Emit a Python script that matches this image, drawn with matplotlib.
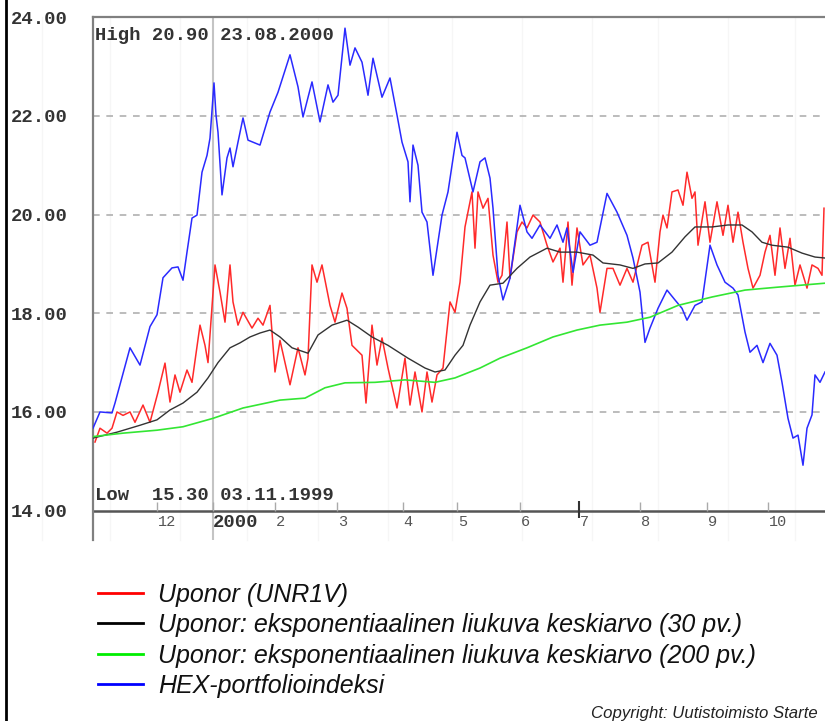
import matplotlib
matplotlib.use("Agg")
import matplotlib.pyplot as plt
from matplotlib.lines import Line2D

# Uponor vs HEX portfolio index, 1.11.1999 - 31.10.2000
# x values are days counted from 1.11.1999

y_ticks = [14, 16, 18, 20, 22, 24]
y_labels = ['14.00', '16.00', '18.00', '20.00', '22.00', '24.00']

month_days = [32, 60, 91, 122, 155, 182, 213.5, 243, 273.5, 307, 337.5]
month_labels = ['12', '2000', '2', '3', '4', '5', '6', '7', '8', '9', '10']
year_day = 60

high_val, high_date = 20.90, '23.08.2000'
low_val, low_date = 15.30, '03.11.1999'

red_day = [1, 3.5, 7, 9.5, 12, 15, 18.5, 21, 25, 28.5, 32.5, 36, 38.5, 41, 43.5,
           47, 49.5, 53.5, 56, 57.5, 61, 63.5, 66, 68.5, 70, 72.5, 75, 79.5, 82.5,
           85, 88.5, 91, 93.5, 98.5, 102.5, 106, 107.5, 109.5, 112, 114.5, 118.5,
           121, 124.5, 127, 129.5, 134.5, 136.5, 139.5, 142, 144.5, 147.5, 152,
           156, 158.5, 161, 164.5, 167, 169.5, 172, 175, 178.5, 181, 183.5, 186,
           189.5, 191, 192.5, 195, 197.5, 200, 202.5, 204.5, 207, 208.5, 212,
           214.5, 217, 220, 223.5, 227, 230, 233.5, 235, 237.5, 239.5, 242, 245,
           248.5, 252, 253.5, 257, 260, 263.5, 267, 270, 274.5, 277.5, 281, 283.5,
           285, 287, 289.5, 292.5, 295, 297, 299.5, 301, 302.5, 306, 308.5, 312,
           315, 317.5, 320, 322.5, 325, 327.5, 330, 333.5, 336, 338.5, 341, 343.5,
           346, 348.5, 351, 353.5, 357, 359.5, 362.5, 364.5, 365.5]
red_val = [15.39, 15.67, 15.57, 15.67, 16.00, 15.93, 16.00, 15.79, 16.14, 15.79,
           16.40, 16.99, 16.20, 16.75, 16.40, 16.85, 16.60, 17.76, 17.35, 17.00,
           18.98, 18.43, 17.82, 18.98, 18.23, 17.76, 18.02, 17.70, 17.90, 17.76,
           18.16, 16.81, 17.45, 16.55, 17.30, 16.75, 17.09, 18.98, 18.63, 18.98,
           18.16, 17.82, 18.41, 18.10, 17.35, 17.15, 16.18, 17.76, 16.95, 17.50,
           16.89, 16.08, 17.09, 16.14, 16.81, 16.00, 16.81, 16.20, 16.75, 16.89,
           18.23, 18.02, 18.63, 19.75, 20.46, 19.32, 20.46, 20.13, 20.33, 19.18,
           18.63, 18.77, 19.85, 18.71, 19.65, 19.85, 19.73, 19.99, 19.85, 19.38,
           19.04, 19.32, 18.63, 19.85, 18.57, 19.73, 18.98, 19.18, 18.51, 18.02,
           18.91, 18.91, 18.57, 18.91, 18.63, 19.38, 19.44, 18.63, 19.65, 19.99,
           19.73, 20.46, 20.50, 20.19, 20.86, 20.33, 20.46, 19.38, 20.26, 19.44,
           20.26, 19.58, 20.19, 19.44, 20.05, 19.44, 18.91, 18.51, 18.77, 19.24,
           19.58, 18.77, 19.73, 18.91, 19.52, 18.57, 18.98, 18.51, 18.98, 18.91,
           18.77, 20.13]

ema30_day = [0, 12, 23.5, 32, 38.5, 45, 52, 57.5, 62.5, 68.5, 73.5, 78.5, 83.5,
             88.5, 93.5, 99.5, 107.5, 112.5, 119.5, 127, 132.5, 139.5, 147.5,
             157.5, 166, 171, 176, 181, 185, 188.5, 193.5, 198.5, 205, 212, 218.5,
             227, 233.5, 242, 250, 255, 263.5, 270, 276, 282.5, 289.5, 296, 301,
             309.5, 317.5, 324.5, 329.5, 334.5, 339.5, 347.5, 354.5, 361, 366]
ema30_val = [15.47, 15.59, 15.73, 15.84, 16.04, 16.18, 16.40, 16.69, 17.00, 17.30,
             17.40, 17.52, 17.60, 17.66, 17.52, 17.30, 17.19, 17.56, 17.76, 17.86,
             17.72, 17.52, 17.35, 17.09, 16.89, 16.81, 16.85, 17.15, 17.35, 17.76,
             18.23, 18.57, 18.61, 18.91, 19.14, 19.32, 19.24, 19.24, 19.18, 19.02,
             18.98, 18.91, 19.00, 19.02, 19.24, 19.55, 19.75, 19.75, 19.79, 19.79,
             19.65, 19.44, 19.38, 19.34, 19.22, 19.14, 19.12]

ema200_day = [0, 15, 32, 45, 60, 75, 93.5, 106, 116, 126, 141, 156, 171, 181,
              193.5, 203.5, 217, 230, 242, 253.5, 267, 278.5, 292.5, 309.5, 326,
              342.5, 366]
ema200_val = [15.50, 15.57, 15.63, 15.70, 15.87, 16.08, 16.24, 16.28, 16.49, 16.59,
              16.60, 16.65, 16.60, 16.69, 16.89, 17.09, 17.30, 17.52, 17.66, 17.76,
              17.82, 17.92, 18.16, 18.33, 18.47, 18.53, 18.61]

hex_day = [0, 3.5, 9.5, 11, 18.5, 23.5, 28.5, 32, 35, 39.5, 42.5, 45, 47, 49.5,
           52, 54.5, 57, 58.5, 60.5, 61.5, 62.5, 64.5, 67, 68.5, 70, 72.5, 75,
           77.5, 83.5, 88.5, 92.5, 98.5, 102.5, 105, 109.5, 113.5, 117.5, 120,
           122.5, 126, 128.5, 131, 134.5, 137.5, 140, 144.5, 148.5, 152, 154.5,
           157.5, 158.5, 160, 162.5, 164.5, 167, 170, 174.5, 177.5, 182, 184.5,
           186, 190, 193.5, 196, 198.5, 200, 202.5, 205, 208.5, 213.5, 217, 219.5,
           223.5, 228.5, 232, 235, 237, 240, 243.5, 248.5, 252, 257, 262, 267, 270,
           273.5, 276, 278.5, 282.5, 287, 291, 294.5, 297, 301, 304.5, 308.5, 312,
           316, 320, 322.5, 326, 328.5, 332, 335, 338.5, 342, 344.5, 347.5, 350,
           352.5, 355, 357, 359.5, 361, 363.5, 366]
hex_val = [15.67, 16.00, 15.98, 16.18, 17.30, 16.95, 17.73, 17.97, 18.72, 18.92,
           18.94, 18.67, 19.24, 19.93, 19.99, 20.86, 21.20, 21.55, 22.67, 22.02,
           21.67, 20.40, 21.15, 21.35, 20.97, 21.47, 21.96, 21.51, 21.41, 22.08,
           22.48, 23.24, 22.59, 21.98, 22.69, 21.88, 22.63, 22.28, 22.42, 23.78,
           23.03, 23.38, 23.09, 22.42, 23.17, 22.38, 22.77, 22.02, 21.47, 21.07,
           20.26, 21.41, 21.00, 20.05, 19.85, 18.77, 19.99, 20.46, 21.67, 21.20,
           21.15, 20.46, 21.07, 21.15, 20.74, 20.13, 18.77, 18.27, 18.71, 20.19,
           19.65, 19.52, 19.79, 19.52, 19.79, 19.44, 19.73, 18.83, 19.65, 19.38,
           19.44, 20.43, 20.05, 19.58, 19.12, 18.43, 17.41, 17.70, 18.10, 18.47,
           18.27, 18.10, 17.86, 18.16, 18.23, 19.38, 18.98, 18.63, 18.51, 18.37,
           17.62, 17.21, 17.35, 17.00, 17.39, 17.15, 16.60, 15.87, 15.47, 15.53,
           14.92, 15.67, 15.94, 16.75, 16.60, 16.81]

legend_labels = ['Uponor (UNR1V)',
                 'Uponor: eksponentiaalinen liukuva keskiarvo (30 pv.)',
                 'Uponor: eksponentiaalinen liukuva keskiarvo (200 pv.)',
                 'HEX-portfolioindeksi']
legend_colors = ['#ff0000', '#000000', '#00ee00', '#0000ff']

W, H = 825, 721
mono = 'Liberation Mono'

fig = plt.figure(figsize=(W / 100, H / 100), dpi=100)
fig.patch.set_facecolor('white')

# axes: top at y=24 (px 17), 2 px per day starting at px 93
ax = fig.add_axes([93 / W, 1 - 540 / H, 740 / W, (540 - 17.3) / H])
ax.patch.set_visible(False)
ax.set_xlim(0, 370)
ax.set_ylim(24 - (540 - 17.3) / 49.33, 24)

for s in ['right', 'bottom']:
    ax.spines[s].set_visible(False)
for s in ['top', 'left']:
    ax.spines[s].set_color('#808080')
    ax.spines[s].set_linewidth(1.6)

# very faint background verticals
for px in [42, 110, 180, 247, 318, 388, 452, 522, 592, 658, 728, 795]:
    fig.add_artist(Line2D([px / W, px / W], [1 - 540 / H, 1 - 17 / H],
                          color='#f6f6f6', lw=1, zorder=-1))

for v in y_ticks[1:-1]:
    ax.axhline(v, color='#b0b0b0', lw=1.2, ls=(0, (4, 4)), zorder=0)
ax.axvline(year_day, color='#c4c4c4', lw=1.5, zorder=0.5)
ax.axhline(14, color='#555555', lw=1.8, zorder=1)

ax.vlines([d for d in month_days if d != 243], 14, 14.18, color='#aaaaaa', lw=1)
ax.vlines(243, 13.86, 14.2, color='#333333', lw=1.5)

ax.plot(red_day, red_val, color='#ff2a2a', lw=1.1, zorder=3)
ax.plot(hex_day, hex_val, color='#2a2aff', lw=1.1, zorder=3)
ax.plot(ema30_day, ema30_val, color='#333333', lw=1.0, zorder=4)
ax.plot(ema200_day, ema200_val, color='#33e633', lw=1.2, zorder=4)

ax.set_xticks([])
ax.set_yticks(y_ticks, y_labels)
ax.tick_params(axis='y', length=0, pad=18)
for t in ax.get_yticklabels():
    t.set_fontfamily(mono)
    t.set_fontweight('bold')
    t.set_fontsize(13.6)
    t.set_color('#333333')

for d, lab in zip(month_days, month_labels):
    if lab == '2000':
        ax.text(d, 13.75, lab, ha='left', va='center', family=mono,
                fontweight='bold', fontsize=13.6, color='#333333')
    else:
        ax.text(d + 0.3, 13.77, lab, ha='left', va='center', family=mono,
                fontsize=11, color='#555555')

fig.text(95 / W, 1 - 36 / H, 'High %.2f %s' % (high_val, high_date), va='center',
         family=mono, fontweight='bold', fontsize=13.6, color='#333333')
fig.text(95 / W, 1 - 495 / H, 'Low  %.2f %s' % (low_val, low_date), va='center',
         family=mono, fontweight='bold', fontsize=13.6, color='#333333')

# left frame line
fig.add_artist(Line2D([6 / W, 6 / W], [0, 1], color='black', lw=2))

# legend
for i, (lab, col) in enumerate(zip(legend_labels, legend_colors)):
    yl = 593 + i * 30.3
    fig.add_artist(Line2D([98 / W, 143 / W], [1 - yl / H, 1 - yl / H], color=col, lw=2))
    fig.text(158 / W, 1 - (yl + 9) / H, lab, va='baseline', ha='left',
             family='Liberation Sans', style='italic', fontsize=18, color='#111111')

fig.text(591 / W, 1 - 718 / H, 'Copyright: Uutistoimisto Starte', va='baseline',
         ha='left', family='Liberation Sans', style='italic', fontsize=12.1,
         color='#222222')

fig.savefig('out.png', dpi=100)
